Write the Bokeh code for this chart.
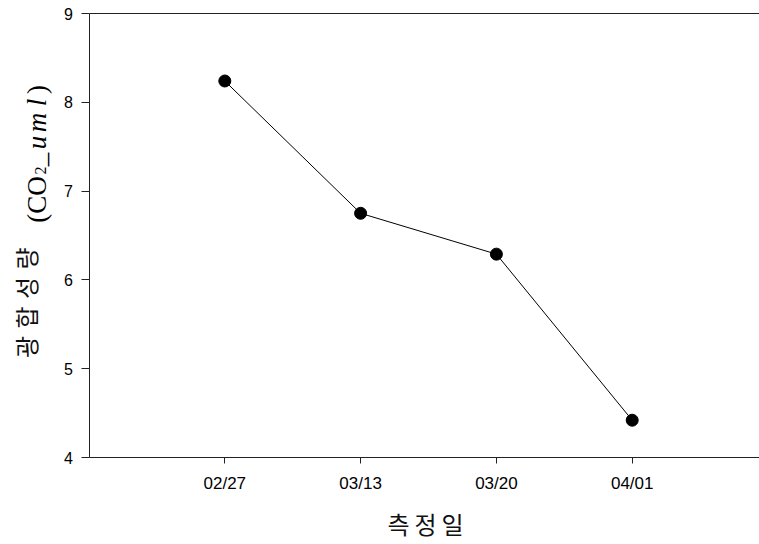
from math import pi
from bokeh.plotting import figure
from bokeh.models import Label, FixedTicker, ColumnDataSource, LinearAxis
from bokeh.embed import file_html
from bokeh.resources import INLINE

# ---- data ----
dates = ["02/27", "03/13", "03/20", "04/01"]
values = [8.24, 6.75, 6.29, 4.42]
y_ticks = [4, 5, 6, 7, 8, 9]
x_title = ["측", "정", "일"]
y_title_ko = ["광", "합", "성", "량"]

W, H = 759, 544
# frame == whole canvas; axes drawn at fixed locations
KX = 135.8          # px per category step
KY = 88.8           # px per y unit
AX_X, AX_Y = 88.5, 457.0   # pixel position of the axes
x0 = -AX_X / KX
x1 = (W - AX_X) / KX
y1 = 9 + (13.0) / KY
y0 = 4 - (H - AX_Y) / KY

xpos = list(range(1, len(dates) + 1))
src = ColumnDataSource(dict(x=xpos, y=values))

p = figure(width=W, height=H, x_range=(x0, x1), y_range=(y0, y1),
           output_backend="svg", toolbar_location=None,
           x_axis_type=None, y_axis_type=None,
           min_border=0, min_border_left=0, min_border_right=0,
           min_border_top=0, min_border_bottom=0)
p.outline_line_color = None
p.background_fill_color = "white"
p.border_fill_color = "white"

FONT = "Liberation Sans"
AXC = "#222222"

yax = LinearAxis(fixed_location=0, bounds=(4, 9), ticker=FixedTicker(ticks=y_ticks))
yax.major_tick_out = 8
yax.major_tick_in = 0
yax.minor_tick_out = 0
yax.minor_tick_in = 0
yax.major_label_standoff = 8
yax.major_label_text_font = FONT
yax.major_label_text_font_size = "16px"
yax.major_label_text_color = "black"
yax.axis_line_color = AXC
yax.major_tick_line_color = AXC
p.add_layout(yax, "left")

xax = LinearAxis(fixed_location=4, bounds=(0, x1 + 1), ticker=FixedTicker(ticks=xpos))
xax.major_label_overrides = {i: d for i, d in zip(xpos, dates)}
xax.major_tick_out = 6
xax.major_tick_in = 0
xax.minor_tick_out = 0
xax.minor_tick_in = 0
xax.major_label_standoff = 10
xax.major_label_text_font = FONT
xax.major_label_text_font_size = "17px"
xax.major_label_text_color = "black"
xax.axis_line_color = AXC
xax.major_tick_line_color = AXC
p.add_layout(xax, "below")

top = LinearAxis(fixed_location=9, bounds=(0, x1 + 1), ticker=FixedTicker(ticks=[]))
top.major_tick_out = 0
top.major_tick_in = 0
top.minor_tick_out = 0
top.minor_tick_in = 0
top.major_label_text_font_size = "0px"
top.axis_line_color = AXC
p.add_layout(top, "above")

p.line("x", "y", source=src, line_color="black", line_width=1)
p.scatter("x", "y", source=src, size=12, fill_color="black", line_color="black")

# x title (letter-spaced)
for ch, px in zip(x_title, [398, 425, 452]):
    p.add_layout(Label(x=px, y=H - 523, x_units="screen", y_units="screen", text=ch,
                       text_font="Noto Sans CJK KR", text_font_size="24px",
                       text_align="center", text_baseline="middle", text_color="#111111"))

# y title, Korean part
for ch, py in zip(y_title_ko, [346.5, 317, 287.5, 258]):
    p.add_layout(Label(x=25, y=H - py, x_units="screen", y_units="screen", text=ch, angle=pi / 2,
                       text_font="Noto Sans CJK KR", text_font_size="24px",
                       text_align="center", text_baseline="middle", text_color="#111111"))

# y title, serif part
pieces = [("(CO", 199, "normal", 27, 36), ("2", 170, "normal", 16, 40),
          ("_", 159, "normal", 27, 36), ("u", 142, "italic", 27, 36),
          ("m", 122, "italic", 27, 36), ("l", 102, "italic", 27, 36),
          (")", 89, "normal", 27, 36)]
for t, py, st, fs, px in pieces:
    p.add_layout(Label(x=px, y=H - py, x_units="screen", y_units="screen", text=t, angle=pi / 2,
                       text_font="Liberation Serif", text_font_size=f"{fs}px",
                       text_font_style=st,
                       text_align="center", text_baseline="alphabetic", text_color="black"))

open("out.html", "w").write(file_html(p, INLINE))
